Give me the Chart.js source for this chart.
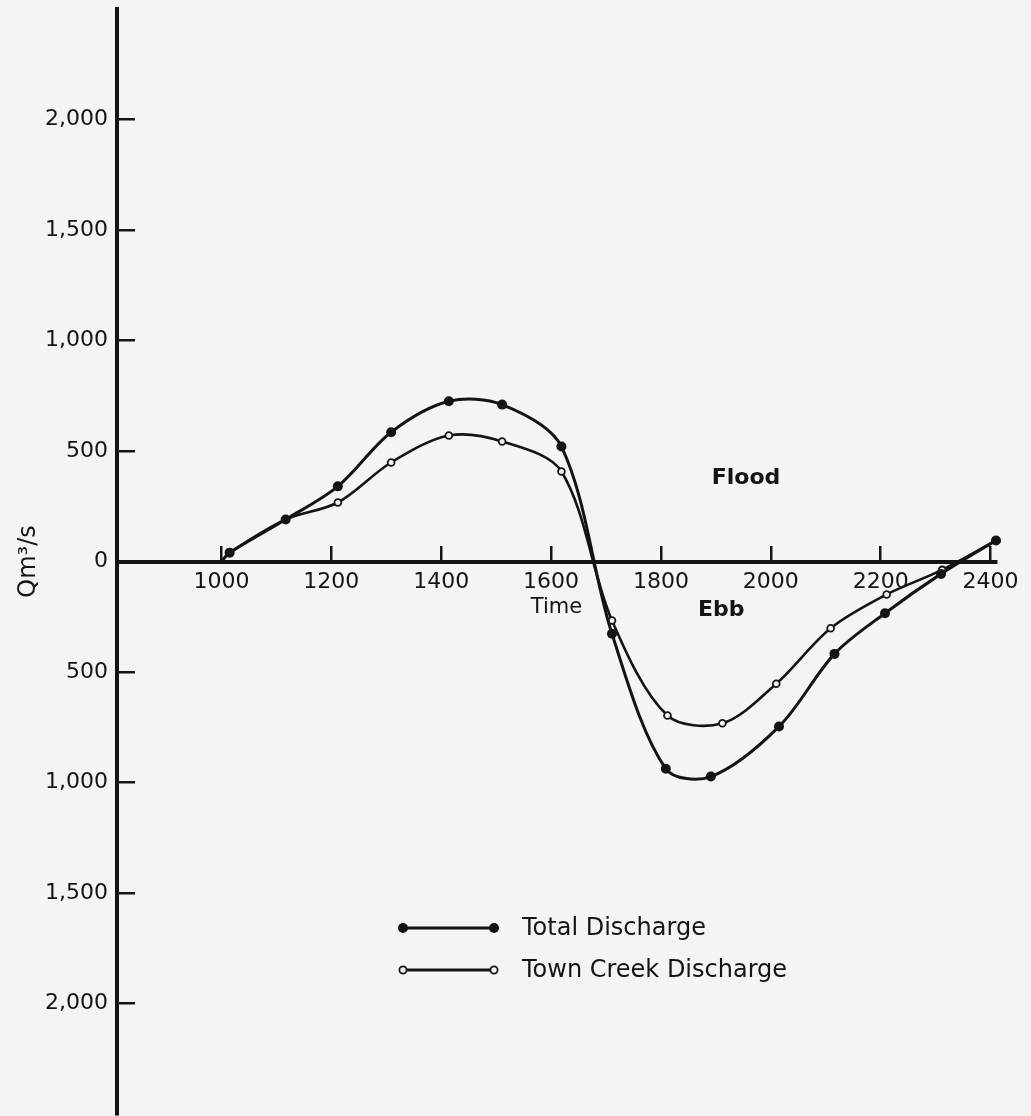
<!DOCTYPE html>
<html>
<head>
<meta charset="utf-8">
<title>Town Creek Discharge</title>
<script src="https://cdn.jsdelivr.net/npm/chart.js@4.4.1/dist/chart.umd.min.js"></script>
<style>
    body { margin: 0; background: #f4f4f2; }
    canvas { display: block; }
</style>
</head>
<body>
<canvas id="dischargeChart" width="1031" height="1116"></canvas>
<script>
// Tidal discharge (m3/s) against time of day; ebb flow is negative
const totalTimes = [1000, 1015, 1117, 1212, 1309, 1414, 1511, 1619, 1711, 1809, 1891, 2015, 2116, 2208, 2310, 2410];
const totalDischarge = [0, 40, 190, 340, 585, 725, 710, 520, -327, -938, -973, -747, -418, -234, -56, 95];
const townCreekTimes = [1000, 1015, 1117, 1212, 1309, 1414, 1511, 1619, 1711, 1812, 1912, 2010, 2109, 2211, 2312, 2410];
const townCreekDischarge = [0, 40, 190, 267, 448, 570, 543, 407, -267, -697, -732, -553, -302, -149, -38, 95];
const seriesNames = ['Total Discharge', 'Town Creek Discharge'];
const timeTicks = [1000, 1200, 1400, 1600, 1800, 2000, 2200, 2400];
const dischargeTicks = [-2000, -1500, -1000, -500, 0, 500, 1000, 1500, 2000];

const INK = '#141414';
const PAPER = '#f4f4f2';
const FONT = 'DejaVu Sans';

function toPoints(times, values) {
    return times.map((t, i) => ({ x: t, y: values[i] }));
}

// The first sample sits on the axis and has no marker
const hideFirst = (r) => (ctx) => ctx.dataIndex === 0 ? 0 : r;

// Keep the plot area pinned to the layout padding
const noEdgePadding = (scale) => {
    scale.paddingTop = scale.paddingBottom = 0;
    scale.paddingLeft = scale.paddingRight = 0;
};

// Flood / Ebb captions in data coordinates, plus the "Time" caption under the axis
const captions = {
    id: 'captions',
    afterDatasetsDraw(chart, args, opts) {
        const { ctx, scales: { x, y } } = chart;
        ctx.save();
        ctx.fillStyle = INK;
        ctx.textAlign = 'center';
        ctx.textBaseline = 'middle';
        ctx.font = `bold 22px "${FONT}"`;
        opts.items.forEach(item => {
            ctx.fillText(item.text, x.getPixelForValue(item.t), y.getPixelForValue(item.q));
        });
        ctx.font = `21px "${FONT}"`;
        ctx.fillText(opts.timeTitle, (x.left + x.right) / 2, y.getPixelForValue(0) + opts.timeOffset);
        ctx.restore();
    }
};

// Legend with a short line capped by a marker at each end
const lineLegend = {
    id: 'lineLegend',
    afterDraw(chart, args, opts) {
        const { ctx } = chart;
        ctx.save();
        chart.data.datasets.forEach((ds, i) => {
            const y = opts.top + i * opts.rowGap;
            ctx.strokeStyle = INK;
            ctx.lineWidth = 3;
            ctx.beginPath();
            ctx.moveTo(opts.left, y);
            ctx.lineTo(opts.left + opts.lineLength, y);
            ctx.stroke();
            [opts.left, opts.left + opts.lineLength].forEach(px => {
                ctx.beginPath();
                ctx.arc(px, y, ds.legendRadius, 0, Math.PI * 2);
                ctx.fillStyle = ds.pointBackgroundColor;
                ctx.fill();
                if (ds.pointBorderWidth) {
                    ctx.lineWidth = ds.pointBorderWidth;
                    ctx.stroke();
                }
            });
            ctx.fillStyle = INK;
            ctx.font = `24px "${FONT}"`;
            ctx.textAlign = 'left';
            ctx.textBaseline = 'middle';
            ctx.fillText(ds.label, opts.left + opts.lineLength + 28, y + 1);
        });
        ctx.restore();
    }
};

new Chart(document.getElementById('dischargeChart'), {
    type: 'line',
    data: {
        datasets: [{
            label: seriesNames[0],
            data: toPoints(totalTimes, totalDischarge),
            borderColor: INK,
            borderWidth: 3,
            tension: 0.32,
            pointRadius: hideFirst(5),
            pointBackgroundColor: INK,
            pointBorderWidth: 0,
            legendRadius: 5,
            clip: false
        }, {
            label: seriesNames[1],
            data: toPoints(townCreekTimes, townCreekDischarge),
            borderColor: INK,
            borderWidth: 2.6,
            tension: 0.32,
            pointRadius: hideFirst(3.4),
            pointBackgroundColor: PAPER,
            pointBorderColor: INK,
            pointBorderWidth: 1.8,
            legendRadius: 3.6,
            clip: false
        }]
    },
    options: {
        responsive: false,
        animation: false,
        layout: { autoPadding: false, padding: { top: 9, bottom: 2, left: 0, right: 35 } },
        plugins: {
            legend: { display: false },
            tooltip: { enabled: false },
            captions: {
                items: [
                    { text: 'Flood', t: 1955, q: 378 },
                    { text: 'Ebb', t: 1910, q: -222 }
                ],
                timeTitle: 'Time',
                timeOffset: 46
            },
            lineLegend: { left: 403, top: 928, rowGap: 42, lineLength: 91 }
        },
        scales: {
            x: {
                type: 'linear',
                position: { y: 0 },
                min: 810,
                max: 2410,
                afterBuildTicks: (scale) => { scale.ticks = timeTicks.map(v => ({ value: v })); },
                afterFit: noEdgePadding,
                ticks: {
                    color: INK,
                    font: { family: FONT, size: 22 },
                    padding: 26,
                    maxRotation: 0,
                    callback: (v) => String(v)
                },
                grid: { drawOnChartArea: false, tickLength: -18, color: INK, lineWidth: 2.5 },
                border: { color: INK, width: 4 }
            },
            y: {
                type: 'linear',
                position: 'left',
                min: -2500,
                max: 2500,
                afterBuildTicks: (scale) => { scale.ticks = dischargeTicks.map(v => ({ value: v })); },
                afterFit: (scale) => {
                    noEdgePadding(scale);
                    scale.width = 117;
                },
                ticks: {
                    color: INK,
                    font: { family: FONT, size: 22 },
                    padding: 27,
                    callback: (v) => Math.abs(v).toLocaleString('en-US')
                },
                grid: { drawOnChartArea: false, tickLength: -18, color: INK, lineWidth: 2.5 },
                border: { color: INK, width: 4 },
                title: {
                    display: true,
                    text: 'Qm³/s',
                    color: INK,
                    font: { family: FONT, size: 24 },
                    padding: { top: 14, bottom: 0 }
                }
            }
        }
    },
    plugins: [captions, lineLegend]
});
</script>
</body>
</html>
